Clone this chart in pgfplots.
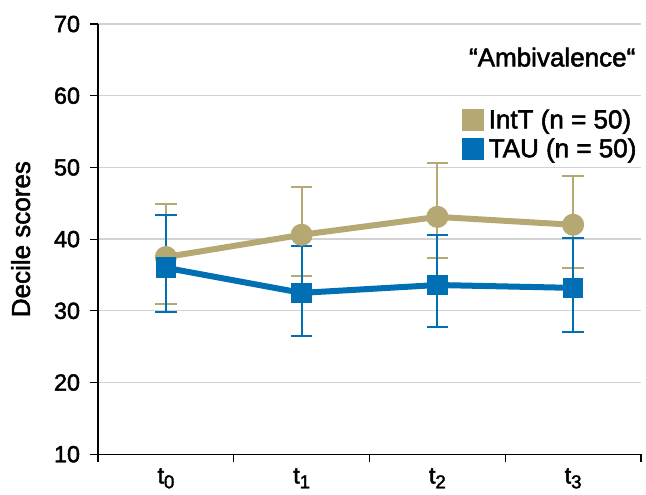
\documentclass[border=0pt]{standalone}
\usepackage{fontspec}
\setmainfont{Liberation Sans}
\newfontfamily\tickfont{Liberation Sans}[FakeBold=2]
\newfontfamily\labelfont{Liberation Sans}[FakeBold=2]
\usepackage{pgfplots}
\pgfplotsset{compat=1.18}
\definecolor{intt}{RGB}{181,168,115}
\definecolor{tau}{RGB}{0,111,180}
\definecolor{gridgray}{RGB}{210,210,210}
\newcommand{\tsub}[1]{t\raisebox{-0.4ex}{\fontsize{14}{15}\selectfont #1}}

\begin{document}
\begin{tikzpicture}
\begin{axis}[
  scale only axis,
  width=407pt, height=322.5pt,
  xmin=-0.5, xmax=3.5,
  ymin=10, ymax=70,
  ytick={10,20,...,70},
  xtick={0,1,2,3},
  xticklabels={\tsub{0},\tsub{1},\tsub{2},\tsub{3}},
  minor xtick={-0.5,0.5,1.5,2.5,3.5},
  major x tick style={draw=none},
  tick align=outside,
  major tick length=6pt, minor tick length=6pt,
  tick style={black, line width=0.9pt},
  axis x line*=bottom, axis y line*=left,
  axis line style={black, line width=0.9pt, -},
  ymajorgrids, grid style={gridgray, line width=1pt},
  /pgf/number format/assume math mode=true,
  tick label style={font=\tickfont\fontsize{17.5}{21}\selectfont},
  xticklabel style={yshift=-1pt},
  yticklabel style={xshift=-4pt},
  ylabel={Decile scores},
  ylabel style={font=\labelfont\fontsize{19.5}{22}\selectfont, yshift=11pt},
  legend style={at={(0.997,0.808)}, anchor=north east, draw=none, fill=none,
    font=\labelfont\fontsize{19.5}{22}\selectfont, row sep=2pt, inner sep=0pt},
  legend cell align=left,
  legend image code/.code={\fill[#1] (0pt,-6pt) rectangle (12pt,6pt); \path[draw=none,fill=none] (0pt,0pt) -- (16pt,0pt);},
  clip=false,
]
% IntT
\addplot [intt, line width=4.5pt, mark=*, mark size=6pt,
  error bars/.cd, y dir=both, y explicit,
  error bar style={line width=1.5pt, intt},
  error mark options={rotate=90, mark size=8pt, line width=1.5pt, intt}]
  coordinates {
    (0,37.5) += (0,7.4) -= (0,6.6)
    (1,40.6) += (0,6.7) -= (0,5.8)
    (2,43.1) += (0,7.5) -= (0,5.8)
    (3,42.0) += (0,6.8) -= (0,6.0)
  };
\addlegendentry{IntT (n = 50)}
% TAU
\addplot [tau, line width=4.5pt, mark=square*, mark size=5.5pt,
  error bars/.cd, y dir=both, y explicit,
  error bar style={line width=1.5pt, tau},
  error mark options={rotate=90, mark size=8pt, line width=1.5pt, tau}]
  coordinates {
    (0,36.0) += (0,7.4) -= (0,6.2)
    (1,32.5) += (0,6.6) -= (0,6.0)
    (2,33.6) += (0,7.0) -= (0,5.8)
    (3,33.2) += (0,7.0) -= (0,6.2)
  };
\addlegendentry{TAU (n = 50)}
\node[anchor=east, font=\labelfont\fontsize{19.5}{22}\selectfont, inner sep=0pt] at (rel axis cs:0.99,0.923) {“Ambivalence“};
\end{axis}
\path (current axis.south west) ++(-73.5pt,-30pt);
\path (current axis.north east) ++(3.75pt,18pt);
\end{tikzpicture}
\end{document}
